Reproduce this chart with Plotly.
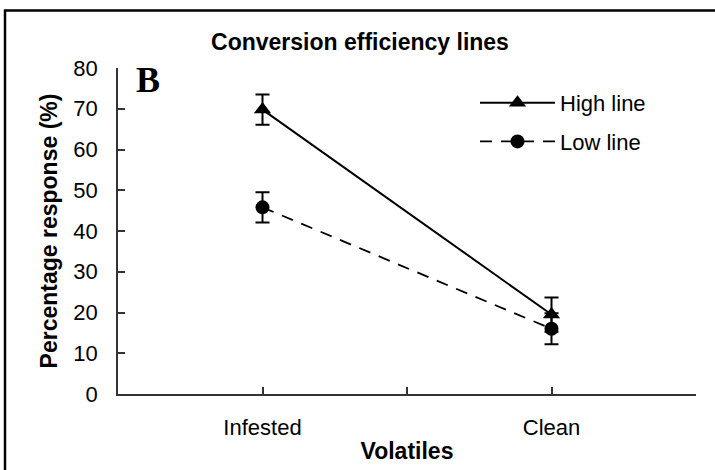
import plotly.graph_objects as go

categories = ["Infested", "Clean"]
x_pos = [0, 1]
high_line = [69.8, 19.5]
high_err = [3.7, 4.2]
low_line = [45.8, 16.0]
low_err = [3.7, 3.8]
y_ticks = [0, 10, 20, 30, 40, 50, 60, 70, 80]

FONT = "Liberation Sans, Arial, sans-serif"

fig = go.Figure()
fig.add_trace(go.Scatter(
    x=x_pos, y=high_line, name="High line", mode="lines+markers",
    line=dict(color="black", width=2),
    marker=dict(symbol="triangle-up", size=15, color="black"),
    error_y=dict(type="data", array=high_err, color="black", thickness=2, width=7),
    legendgroup="a",
))
fig.add_trace(go.Scatter(
    x=x_pos, y=low_line, name="Low line", mode="lines+markers",
    line=dict(color="black", width=1.8, dash="12px,9px"),
    marker=dict(symbol="circle", size=14, color="black"),
    error_y=dict(type="data", array=low_err, color="black", thickness=2, width=7),
    legendgroup="b",
))

axis_font = dict(family=FONT, size=22, color="black")
fig.update_xaxes(
    range=[-0.5, 1.5], tickvals=[-0.5, 0, 0.5, 1, 1.5],
    ticktext=["", categories[0], "", categories[1], ""],
    ticks="inside", ticklen=7, tickwidth=1.5, tickcolor="#333",
    showline=True, linecolor="#333", linewidth=1.5, showgrid=False, zeroline=False,
    tickfont=axis_font, ticklabelstandoff=13,
    title=dict(text="<b>Volatiles</b>", font=dict(family=FONT, size=23, color="black"), standoff=4),
)
fig.update_yaxes(
    range=[0, 80], tickvals=y_ticks,
    ticks="inside", ticklen=7, tickwidth=1.5, tickcolor="#333",
    showline=True, linecolor="#333", linewidth=1.5, showgrid=False, zeroline=False,
    tickfont=axis_font, ticklabelstandoff=14,
    title=dict(text="<b>Percentage response (%)</b>", font=dict(family=FONT, size=23, color="black"), standoff=9),
)

fig.add_shape(type="rect", xref="paper", yref="paper",
              x0=(5 - 118) / 578, x1=(740 - 118) / 578,
              y0=(394 - 500) / 326, y1=(394 - 10.5) / 326,
              line=dict(color="black", width=2.5), fillcolor="rgba(0,0,0,0)")

fig.add_annotation(text="<b>B</b>", xref="paper", yref="paper",
                   x=(148 - 118) / 578, y=(394 - 80) / 326, showarrow=False,
                   xanchor="center", yanchor="middle",
                   font=dict(family="Liberation Serif, Times New Roman, serif", size=36, color="black"))

fig.update_layout(
    width=715, height=470,
    margin=dict(l=118, r=19, t=68, b=76, autoexpand=False),
    paper_bgcolor="white", plot_bgcolor="white",
    title=dict(text="<b>Conversion efficiency lines</b>", x=360 / 715, xanchor="center",
               y=1 - 42 / 470, yanchor="middle",
               font=dict(family=FONT, size=23, color="black")),
    showlegend=True,
    legend=dict(x=(475 - 118) / 578, y=(394 - 82) / 326, xanchor="left", yanchor="top",
                font=dict(family=FONT, size=22, color="black"), bgcolor="rgba(0,0,0,0)", itemwidth=75,
                traceorder="grouped", tracegroupgap=7),
)

fig.write_html("out.html", config={"displayModeBar": False},
               post_script="document.body.style.margin='0';document.body.style.overflow='hidden';")
